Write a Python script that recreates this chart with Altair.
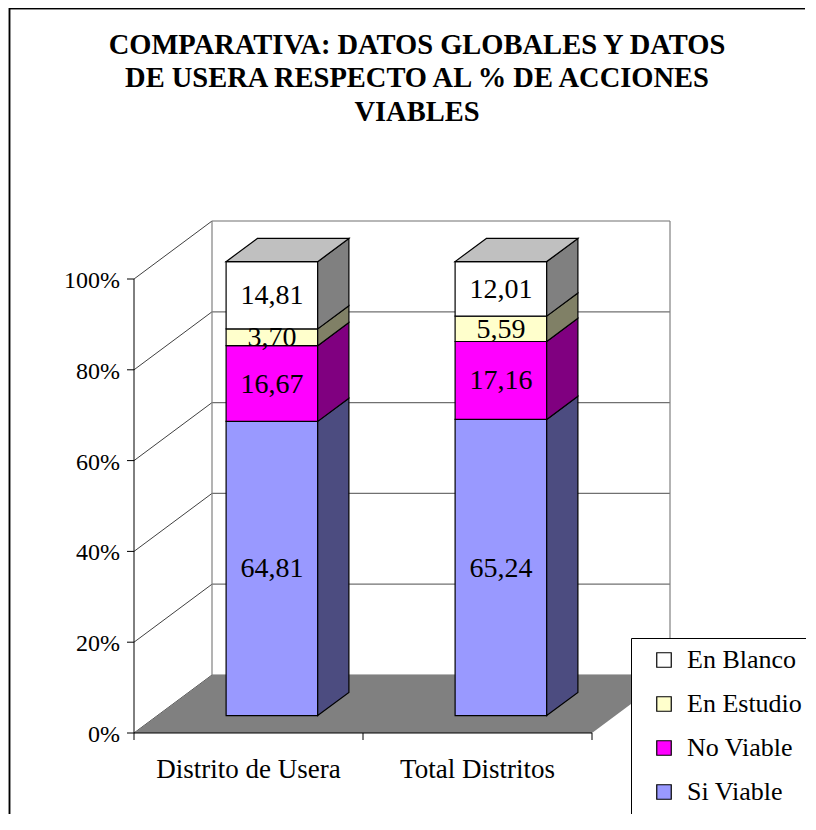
import altair as alt
import pandas as pd

# ---------------- data ----------------
categories = ["Distrito de Usera", "Total Distritos"]
series = ["Si Viable", "No Viable", "En Estudio", "En Blanco"]
si_viable = [64.81, 65.24]
no_viable = [16.67, 17.16]
en_estudio = [3.70, 5.59]
en_blanco = [14.81, 12.01]
y_ticks = [0, 20, 40, 60, 80, 100]
y_tick_labels = ["0%", "20%", "40%", "60%", "80%", "100%"]
title_lines = ["COMPARATIVA: DATOS GLOBALES Y DATOS",
               "DE USERA RESPECTO AL % DE ACCIONES",
               "VIABLES"]
legend_order = ["En Blanco", "En Estudio", "No Viable", "Si Viable"]
front_colors = ["#FFFFFF", "#FFFFCC", "#FF00FF", "#9999FF"]
side_colors = ["#808080", "#808066", "#800080", "#4C4C80"]
top_color = "#C0C0C0"

# ---------------- layout (pixels -> data units) ----------------
W, H = 798, 806
PX_U = 229.0      # px per category unit
PX_PCT = 4.54     # px per percent
X0 = 126.0        # view x of front-left corner
Y0 = 725.0        # view y of 0%
DX = 78 / PX_U    # 3D depth offset (x)
DY = 58 / PX_PCT  # 3D depth offset (y)
F0, FB, HALF = 0.3, 0.4, 0.2
NCAT = len(categories)
FONT = "Liberation Serif"

xs = alt.Scale(domain=[-X0 / PX_U, (W - X0) / PX_U], nice=False, zero=False)
ys = alt.Scale(domain=[-(H - Y0) / PX_PCT, Y0 / PX_PCT], nice=False, zero=False)

values = {"Si Viable": si_viable, "No Viable": no_viable,
          "En Estudio": en_estudio, "En Blanco": en_blanco}
side_map = dict(zip(legend_order, side_colors))

rows = []
for i, cat in enumerate(categories):
    base = 0.0
    for s in series:
        v = values[s][i]
        rows.append(dict(cat=cat, idx=i, serie=s, v=v, y0=base, y1=base + v,
                         label=f"{v:.2f}".replace(".", ",")))
        base += v
seg = pd.DataFrame(rows)
oy = F0 * DY
seg["xc"] = seg["idx"] + 0.5 + F0 * DX
seg["xl"] = seg["xc"] - HALF
seg["xr"] = seg["xc"] + HALF
seg["fy0"] = seg["y0"] + oy
seg["fy1"] = seg["y1"] + oy
seg["ym"] = (seg["fy0"] + seg["fy1"]) / 2
seg["sid"] = seg["cat"] + "|" + seg["serie"]
seg["side"] = seg["serie"].map(side_map)

# side faces (two points each)
side_rows = []
for _, r in seg.iterrows():
    side_rows.append(dict(sid=r["sid"], side=r["side"], sx=r["xr"], sa=r["fy0"], sb=r["fy1"]))
    side_rows.append(dict(sid=r["sid"], side=r["side"], sx=r["xr"] + FB * DX,
                          sa=r["fy0"] + FB * DY, sb=r["fy1"] + FB * DY))
side_df = pd.DataFrame(side_rows)

# top faces
top = seg.groupby("cat", as_index=False).agg(xl=("xl", "first"), xr=("xr", "first"), ty=("fy1", "max"))
top_rows = []
for _, r in top.iterrows():
    top_rows.append(dict(c=r["cat"], ty=r["ty"], ta=r["xl"], tb=r["xr"]))
    top_rows.append(dict(c=r["cat"], ty=r["ty"] + FB * DY, ta=r["xl"] + FB * DX, tb=r["xr"] + FB * DX))
top_df = pd.DataFrame(top_rows)

ticks_df = pd.DataFrame({"v": y_ticks, "lab": y_tick_labels})
ticks_df["vb"] = ticks_df["v"] + DY
ticks_df["x0"] = 0.0
ticks_df["xd"] = DX
ticks_df["xe"] = NCAT + DX
ticks_df["tl"] = -7 / PX_U

floor_df = pd.DataFrame({"fy": [0.0, DY], "fa": [0.0, DX], "fb": [float(NCAT), NCAT + DX]})
walls_df = pd.DataFrame({"wx": [DX, NCAT + DX], "wa": [DY, DY], "wb": [100 + DY, 100 + DY]})
cat_df = pd.DataFrame({"cname": categories, "cx": [i + 0.5 for i in range(NCAT)], "cy": 0.0})
xtick_df = pd.DataFrame({"tx": list(range(NCAT + 1))})
xtick_df["ta"] = 0.0
xtick_df["tb"] = -7 / PX_PCT
axis_df = pd.DataFrame({"ax0": [0.0], "ax1": [float(NCAT)], "ay0": [0.0], "ay1": [100.0]})


def X(f):
    return alt.X(f, scale=xs, axis=None)


def Y(f):
    return alt.Y(f, scale=ys, axis=None, stack=None)


diag = alt.Chart(ticks_df).mark_rule(color="#404040", strokeWidth=1).encode(
    x=X("x0:Q"), x2="xd:Q", y=Y("v:Q"), y2="vb:Q")
grid = alt.Chart(ticks_df).mark_rule(color="#707070", strokeWidth=1.2).encode(
    x=X("xd:Q"), x2="xe:Q", y=Y("vb:Q"))
walls = alt.Chart(walls_df).mark_rule(color="#808080", strokeWidth=1.2).encode(
    x=X("wx:Q"), y=Y("wa:Q"), y2="wb:Q")
floor = alt.Chart(floor_df).mark_area(orient="horizontal", color="#808080").encode(
    y=Y("fy:Q"), x=X("fa:Q"), x2="fb:Q")
yaxis = alt.Chart(axis_df).mark_rule(color="black", strokeWidth=1).encode(
    x=X("ax0:Q"), y=Y("ay0:Q"), y2="ay1:Q")
xaxis = alt.Chart(axis_df).mark_rule(color="black", strokeWidth=1).encode(
    x=X("ax0:Q"), x2="ax1:Q", y=Y("ay0:Q"))
yt = alt.Chart(ticks_df).mark_rule(color="black").encode(
    x=X("tl:Q"), x2="x0:Q", y=Y("v:Q"))
xt = alt.Chart(xtick_df).mark_rule(color="black").encode(
    x=X("tx:Q"), y=Y("ta:Q"), y2="tb:Q")

front = alt.Chart(seg).mark_rect(stroke="black", strokeWidth=1.2).encode(
    x=X("xl:Q"), x2="xr:Q", y=Y("fy0:Q"), y2="fy1:Q",
    color=alt.Color("serie:N",
                    scale=alt.Scale(domain=legend_order, range=front_colors),
                    legend=alt.Legend(title=None, orient="none", legendX=623, legendY=630,
                                      fillColor="white", strokeColor="black", padding=9,
                                      labelFont=FONT, labelFontSize=26, labelColor="black",
                                      symbolType="square", symbolSize=210,
                                      symbolStrokeColor="black", symbolStrokeWidth=1.2,
                                      symbolOffset=11, labelOffset=10, rowPadding=18)))
sides = alt.Chart(side_df).mark_area(orient="vertical", stroke="black", strokeWidth=1.2,
                                     strokeJoin="miter").encode(
    x=X("sx:Q"), y=Y("sa:Q"), y2="sb:Q", detail="sid:N",
    fill=alt.Fill("side:N", scale=None, legend=None))
tops = alt.Chart(top_df).mark_area(orient="horizontal", stroke="black", strokeWidth=1.2,
                                   fill=top_color, strokeJoin="miter").encode(
    y=Y("ty:Q"), x=X("ta:Q"), x2="tb:Q", detail="c:N")

bar_lab = alt.Chart(seg).mark_text(font=FONT, fontSize=28, color="black",
                                   align="center", baseline="middle", dy=1).encode(
    x=X("xc:Q"), y=Y("ym:Q"), text="label:N")
y_lab = alt.Chart(ticks_df).mark_text(font=FONT, fontSize=24, color="black",
                                      align="right", baseline="middle", dx=-14, dy=2).encode(
    x=X("x0:Q"), y=Y("v:Q"), text="lab:N")
cat_lab = alt.Chart(cat_df).mark_text(font=FONT, fontSize=27, color="black",
                                      align="center", baseline="alphabetic", dy=45).encode(
    x=X("cx:Q"), y=Y("cy:Q"), text="cname:N")

border_l = alt.Chart(cat_df).mark_rule(color="black", strokeWidth=1.5).encode(
    x=alt.value(1.5), y=alt.value(0), y2=alt.value(H))
border_t = alt.Chart(cat_df).mark_rule(color="black", strokeWidth=1.5).encode(
    x=alt.value(1.5), x2=alt.value(W - 1), y=alt.value(0.5))

chart = alt.layer(
    diag, grid, walls, floor, yaxis, xaxis, yt, xt,
    front, sides, tops, bar_lab, y_lab, cat_lab, border_l, border_t
).properties(
    width=W, height=H,
    autosize=alt.AutoSizeParams(type="none"),
    padding=0,
    title=alt.TitleParams(text=title_lines, font=FONT, fontSize=28.5, fontWeight="bold",
                          color="black", lineHeight=33.5, anchor="middle",
                          offset=-119, dx=10),
).configure_view(stroke=None)

chart.save("out.html", embed_options={"renderer": "svg", "actions": False})
